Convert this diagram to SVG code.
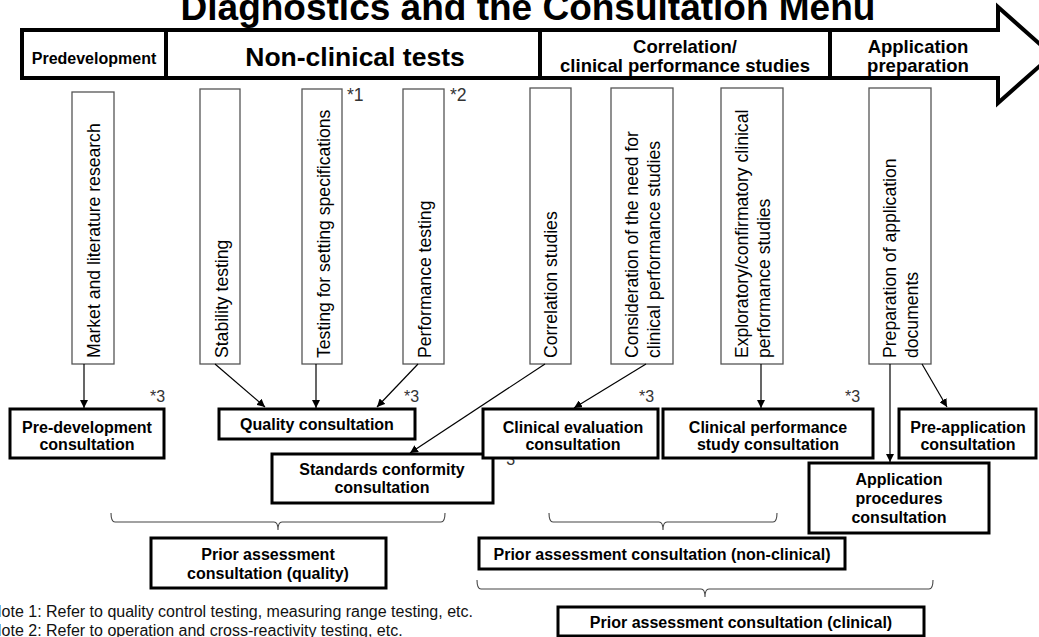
<svg xmlns="http://www.w3.org/2000/svg" width="1039" height="637" viewBox="0 0 1039 637">
  <defs>
    <marker id="arr" viewBox="0 0 10 10" refX="10" refY="5" markerWidth="8" markerHeight="8" markerUnits="userSpaceOnUse" orient="auto">
      <path d="M0,0 L10,5 L0,10 Z" fill="#000"/>
    </marker>
    <style>
      text { font-family: "Liberation Sans", Arial, sans-serif; fill: #000; }
      .hd { font-weight: bold; text-anchor: middle; }
      .step rect { fill: #fff; stroke: #555; stroke-width: 1.3; }
      .step text { font-size: 17.6px; }
      .cons rect { fill: #fff; stroke: #000; stroke-width: 3; }
      .cons text { font-size: 16px; font-weight: bold; text-anchor: middle; }
      .cons text.note { font-weight: normal; text-anchor: start; }
      .note { font-size: 11px; fill: #333; }
      .link { stroke: #000; stroke-width: 1.2; fill: none; marker-end: url(#arr); }
      .brace { stroke: #444; stroke-width: 1.1; fill: none; }
      .foot { font-size: 16px; fill: #111; }
    </style>
  </defs>

  <!-- title -->
  <text x="528" y="20" class="hd" font-size="37">Diagnostics and the Consultation Menu</text>

  <!-- phase band -->
  <g id="phase-band">
    <path d="M22,30 L998,30 L998,7 L1052,55 L998,103 L998,78 L22,78 Z" fill="#fff" stroke="#000" stroke-width="4" stroke-linejoin="miter"/>
    <line x1="166" y1="30" x2="166" y2="78" stroke="#000" stroke-width="4"/>
    <line x1="540" y1="30" x2="540" y2="78" stroke="#000" stroke-width="4"/>
    <line x1="830" y1="30" x2="830" y2="78" stroke="#000" stroke-width="4"/>
    <text x="94" y="64" class="hd" font-size="16">Predevelopment</text>
    <text x="355" y="66" class="hd" font-size="26.5">Non-clinical tests</text>
    <text x="685" y="53" class="hd" font-size="18.5">Correlation/</text>
    <text x="685" y="72" class="hd" font-size="18.5">clinical performance studies</text>
    <text x="918" y="53" class="hd" font-size="18.5">Application</text>
    <text x="918" y="72" class="hd" font-size="18.5">preparation</text>
  </g>

  <!-- work steps (vertical boxes) -->
  <g id="step-market" class="step">
    <rect x="72" y="92" width="42" height="272"/>
    <text transform="translate(100,358) rotate(-90)">Market and literature research</text>
  </g>
  <g id="step-stability" class="step">
    <rect x="200" y="89" width="40" height="275"/>
    <text transform="translate(228,358) rotate(-90)">Stability testing</text>
  </g>
  <g id="step-specs" class="step">
    <rect x="302" y="89" width="40" height="275"/>
    <text transform="translate(330,358) rotate(-90)">Testing for setting specifications</text>
    <text x="347" y="101" class="note">*1</text>
  </g>
  <g id="step-performance" class="step">
    <rect x="403" y="89" width="41" height="275"/>
    <text transform="translate(431,358) rotate(-90)">Performance testing</text>
    <text x="450" y="101" class="note">*2</text>
  </g>
  <g id="step-correlation" class="step">
    <rect x="530" y="88" width="41" height="276"/>
    <text transform="translate(557,358) rotate(-90)">Correlation studies</text>
  </g>
  <g id="step-need" class="step">
    <rect x="611" y="88" width="62" height="276"/>
    <text transform="translate(638,358) rotate(-90)">Consideration of the need for</text>
    <text transform="translate(660,358) rotate(-90)">clinical performance studies</text>
  </g>
  <g id="step-exploratory" class="step">
    <rect x="721" y="88" width="62" height="276"/>
    <text transform="translate(748,358) rotate(-90)">Exploratory/confirmatory clinical</text>
    <text transform="translate(770,358) rotate(-90)">performance studies</text>
  </g>
  <g id="step-documents" class="step">
    <rect x="869" y="88" width="62" height="276"/>
    <text transform="translate(896,358) rotate(-90)">Preparation of application</text>
    <text transform="translate(918,358) rotate(-90)">documents</text>
  </g>

  <!-- connectors -->
  <g id="connectors">
    <line class="link" x1="84" y1="364" x2="84" y2="408"/>
    <line class="link" x1="215" y1="364" x2="265" y2="407"/>
    <line class="link" x1="316" y1="364" x2="316" y2="408"/>
    <line class="link" x1="418" y1="364" x2="377" y2="407"/>
    <line class="link" x1="545" y1="364" x2="410" y2="453"/>
    <line class="link" x1="646" y1="364" x2="574" y2="408"/>
    <line class="link" x1="761" y1="364" x2="761" y2="408"/>
    <line class="link" x1="890" y1="364" x2="890" y2="462"/>
    <line class="link" x1="922" y1="364" x2="947" y2="407"/>
  </g>

  <!-- consultations -->
  <g id="cons-predev" class="cons">
    <rect x="10" y="409" width="154" height="49"/>
    <text x="87" y="433">Pre-development</text>
    <text x="87" y="450">consultation</text>
    <text x="150" y="402" class="note">*3</text>
  </g>
  <g id="cons-quality" class="cons">
    <rect x="219" y="409" width="196" height="30"/>
    <text x="317" y="430">Quality consultation</text>
    <text x="404" y="402" class="note">*3</text>
  </g>
  <g id="cons-standards" class="cons">
    <rect x="272" y="454" width="221" height="49"/>
    <text x="382" y="475">Standards conformity</text>
    <text x="382" y="493">consultation</text>
    <text x="500" y="465" class="note">*3</text>
  </g>
  <g id="cons-clineval" class="cons">
    <rect x="483" y="409" width="175" height="49"/>
    <text x="573" y="433">Clinical evaluation</text>
    <text x="573" y="450">consultation</text>
    <text x="639" y="402" class="note">*3</text>
  </g>
  <g id="cons-clinperf" class="cons">
    <rect x="663" y="409" width="210" height="49"/>
    <text x="768" y="433">Clinical performance</text>
    <text x="768" y="450">study consultation</text>
    <text x="845" y="402" class="note">*3</text>
  </g>
  <g id="cons-preapp" class="cons">
    <rect x="899" y="409" width="137" height="49"/>
    <text x="968" y="433">Pre-application</text>
    <text x="968" y="450">consultation</text>
  </g>
  <g id="cons-procedures" class="cons">
    <rect x="809" y="463" width="180" height="70"/>
    <text x="899" y="485">Application</text>
    <text x="899" y="504">procedures</text>
    <text x="899" y="523">consultation</text>
  </g>

  <!-- grouping braces -->
  <g id="braces">
    <path class="brace" d="M111,513 Q111,522 115,522 L274,522 Q278,522 278,530 Q278,522 282,522 L441,522 Q445,522 445,513"/>
    <path class="brace" d="M549,513 Q549,522 553,522 L659,522 Q663,522 663,530 Q663,522 667,522 L773,522 Q777,522 777,513"/>
    <path class="brace" d="M477,580 Q477,589 481,589 L701,589 Q705,589 705,597 Q705,589 709,589 L929,589 Q933,589 933,580"/>
  </g>

  <g id="prior-quality" class="cons">
    <rect x="151" y="538" width="235" height="50"/>
    <text x="268" y="560">Prior assessment</text>
    <text x="268" y="579">consultation (quality)</text>
  </g>
  <g id="prior-nonclinical" class="cons">
    <rect x="479" y="538" width="366" height="31"/>
    <text x="662" y="560">Prior assessment consultation (non-clinical)</text>
  </g>
  <g id="prior-clinical" class="cons">
    <rect x="558" y="607" width="366" height="29"/>
    <text x="741" y="628">Prior assessment consultation (clinical)</text>
  </g>

  <!-- footnotes -->
  <g id="notes">
    <text x="-10" y="617" class="foot">Note 1: Refer to quality control testing, measuring range testing, etc.</text>
    <text x="-10" y="636" class="foot">Note 2: Refer to operation and cross-reactivity testing, etc.</text>
  </g>
</svg>
